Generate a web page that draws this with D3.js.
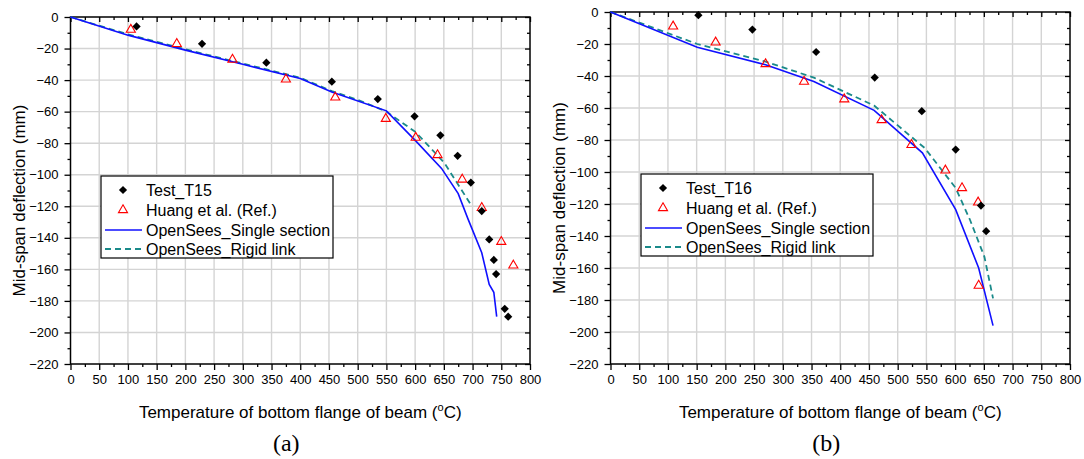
<!DOCTYPE html>
<html>
<head>
<meta charset="utf-8">
<script src="https://cdn.jsdelivr.net/npm/d3@7"></script>
<style>
  html, body { margin: 0; padding: 0; background: #fff; }
  svg { display: block; }
  text { font-family: "Liberation Sans", Arial, sans-serif; fill: #000; }
</style>
</head>
<body>
<svg id="chart" width="1084" height="459"></svg>
<script>
// ---------- data ----------
const xTickValues = [0,50,100,150,200,250,300,350,400,450,500,550,600,650,700,750,800];
const yTickValues = [0,-20,-40,-60,-80,-100,-120,-140,-160,-180,-200,-220];
const seriesNames = ["Test_T15", "Huang et al. (Ref.)", "OpenSees_Single section", "OpenSees_Rigid link"];
const seriesNamesB = ["Test_T16", "Huang et al. (Ref.)", "OpenSees_Single section", "OpenSees_Rigid link"];
const xTitle = "Temperature of bottom flange of beam (";
const yTitle = "Mid-span deflection (mm)";

// Panel (a) T15
const testT15 = [[115,-6],[229,-17],[341,-29],[455,-41],[535,-52],[599,-63],[644,-75],[674,-88],[697,-105],
  [716,-123],[729,-141],[737,-154],[741,-163],[756,-185],[762,-190]];
const huangA = [[105,-8],[185,-17],[282,-27],[375,-39.5],[461,-51],[549,-64.5],[601,-76.5],[639,-87.5],
  [682,-103],[716,-121],[750,-142.5],[771,-157.5]];
const singleA = [[0,0],[100,-11.5],[200,-21],[300,-30],[400,-39],[455,-47.5],[550,-59.5],[601,-78.5],
  [646,-96],[675,-112],[692,-128],[716,-149.5],[729,-169.5],[737,-174.5],[742,-190]];
const rigidA = [[0,0],[100,-11],[200,-20.5],[300,-29.5],[400,-38.5],[455,-47],[500,-52.5],[550,-60],
  [601,-73],[651,-92.5],[697,-119]];

// Panel (b) T16
const testT16 = [[153,-2],[247,-11],[358,-25],[460,-41],[542,-62],[601,-86],[645,-121],[654,-137]];
const huangB = [[109,-9],[183,-19],[270,-32.5],[337,-43.5],[407,-54.5],[472,-67.5],[524,-83],[583,-99],
  [612,-110],[640,-119],[641,-171]];
const singleB = [[0,0],[151,-22],[270,-33],[354,-43.5],[459,-61.5],[543,-88],[601,-123.5],[641,-160],[666,-196]];
const rigidB = [[0,0],[151,-20],[270,-31],[354,-41],[459,-58.5],[547,-85],[601,-110],[626,-130],[651,-153],[666,-179]];

// ---------- drawing ----------
const svg = d3.select("#chart");
const C_BLUE = "#1010ff", C_TEAL = "#1a8a8a", C_RED = "#ff0000", C_GRID = "#d4d4d4";

function panel(cfg) {
  const x = d3.scaleLinear().domain([0, 800]).range([cfg.left, cfg.right]);
  const y = d3.scaleLinear().domain([-220, 0]).range([cfg.bottom, cfg.top]);
  const g = svg.append("g");

  // grid
  g.append("g").selectAll("line").data(xTickValues.filter(v => v > 0 && v < 800)).join("line")
    .attr("x1", d => x(d)).attr("x2", d => x(d)).attr("y1", cfg.top).attr("y2", cfg.bottom)
    .attr("stroke", C_GRID).attr("stroke-width", 1.4);
  g.append("g").selectAll("line").data(yTickValues.filter(v => v > -220 && v < 0)).join("line")
    .attr("y1", d => y(d)).attr("y2", d => y(d)).attr("x1", cfg.left).attr("x2", cfg.right)
    .attr("stroke", C_GRID).attr("stroke-width", 1.4);

  const minorX = d3.range(25, 800, 50);
  const minorY = d3.range(-210, 0, 20);

  function styleAxis(sel) {
    sel.select(".domain").remove();
    sel.selectAll(".tick line").attr("stroke", "#000").attr("stroke-width", 1.3);
    sel.selectAll(".tick text").style("font-size", "13px").style("font-family", "'Liberation Sans', Arial, sans-serif").attr("fill", "#111");
  }
  // bottom
  g.append("g").attr("transform", `translate(0,${cfg.bottom})`)
    .call(d3.axisBottom(x).tickValues(xTickValues).tickSize(6).tickPadding(5).tickFormat(d3.format("d")))
    .call(styleAxis);
  g.append("g").attr("transform", `translate(0,${cfg.bottom})`)
    .call(d3.axisBottom(x).tickValues(minorX).tickSize(3).tickFormat(""))
    .call(styleAxis);
  // left
  g.append("g").attr("transform", `translate(${cfg.left},0)`)
    .call(d3.axisLeft(y).tickValues(yTickValues).tickSize(6).tickPadding(6).tickFormat(d3.format("d")))
    .call(styleAxis);
  g.append("g").attr("transform", `translate(${cfg.left},0)`)
    .call(d3.axisLeft(y).tickValues(minorY).tickSize(3).tickFormat(""))
    .call(styleAxis);
  // top (inward)
  g.append("g").attr("transform", `translate(0,${cfg.top})`)
    .call(d3.axisBottom(x).tickValues(xTickValues).tickSize(5).tickFormat("")).call(styleAxis);
  g.append("g").attr("transform", `translate(0,${cfg.top})`)
    .call(d3.axisBottom(x).tickValues(minorX).tickSize(3).tickFormat("")).call(styleAxis);
  // right (inward)
  g.append("g").attr("transform", `translate(${cfg.right},0)`)
    .call(d3.axisLeft(y).tickValues(yTickValues).tickSize(5).tickFormat("")).call(styleAxis);
  g.append("g").attr("transform", `translate(${cfg.right},0)`)
    .call(d3.axisLeft(y).tickValues(minorY).tickSize(3).tickFormat("")).call(styleAxis);

  // frame
  g.append("rect").attr("x", cfg.left).attr("y", cfg.top)
    .attr("width", cfg.right - cfg.left).attr("height", cfg.bottom - cfg.top)
    .attr("fill", "none").attr("stroke", "#000").attr("stroke-width", 1.5);

  // lines
  const line = d3.line().x(d => x(d[0])).y(d => y(d[1]));
  g.append("path").datum(cfg.rigid).attr("d", line).attr("fill", "none")
    .attr("stroke", C_TEAL).attr("stroke-width", 1.8).attr("stroke-dasharray", "6,4");
  g.append("path").datum(cfg.single).attr("d", line).attr("fill", "none")
    .attr("stroke", C_BLUE).attr("stroke-width", 1.6);

  // markers
  const tri = d3.symbol().type(d3.symbolTriangle).size(36);
  const dia = d3.symbol().type(d3.symbolSquare).size(34);
  g.append("g").selectAll("path").data(cfg.huang).join("path")
    .attr("d", tri).attr("transform", d => `translate(${x(d[0])},${y(d[1])})`)
    .attr("fill", "none").attr("stroke", C_RED).attr("stroke-width", 1.1);
  g.append("g").selectAll("path").data(cfg.test).join("path")
    .attr("d", dia).attr("transform", d => `translate(${x(d[0])},${y(d[1])}) rotate(45)`)
    .attr("fill", "#000");

  // axis titles
  const xt = g.append("text").attr("x", (cfg.left + cfg.right) / 2).attr("y", 418)
    .attr("text-anchor", "middle").style("font-size", "17px");
  xt.append("tspan").text(xTitle);
  xt.append("tspan").attr("dy", -7).style("font-size", "11px").text("o");
  xt.append("tspan").attr("dy", 7).text("C)");

  g.append("text").attr("transform", `translate(${cfg.left - 46},${(cfg.top + cfg.bottom) / 2 + 10}) rotate(-90)`)
    .attr("text-anchor", "middle").style("font-size", "17px").text(yTitle);

  // caption
  g.append("text").attr("x", (cfg.left + cfg.right) / 2 - 14).attr("y", 451).attr("text-anchor", "middle")
    .style("font-family", "'Liberation Serif', 'Times New Roman', serif").style("font-size", "24px").text(cfg.caption);

  // legend
  const L = g.append("g").attr("transform", `translate(${cfg.legX},${cfg.legY})`);
  L.append("rect").attr("width", 232).attr("height", 82).attr("fill", "#fff")
    .attr("stroke", "#000").attr("stroke-width", 1.2);
  const rows = [14, 34, 54, 73];
  L.append("path").attr("d", dia).attr("transform", `translate(22,${rows[0]}) rotate(45)`).attr("fill", "#000");
  L.append("path").attr("d", tri).attr("transform", `translate(22,${rows[1]})`)
    .attr("fill", "none").attr("stroke", C_RED).attr("stroke-width", 1.1);
  L.append("line").attr("x1", 4).attr("x2", 41).attr("y1", rows[2]).attr("y2", rows[2])
    .attr("stroke", C_BLUE).attr("stroke-width", 1.6);
  L.append("line").attr("x1", 4).attr("x2", 41).attr("y1", rows[3]).attr("y2", rows[3])
    .attr("stroke", C_TEAL).attr("stroke-width", 1.8).attr("stroke-dasharray", "6,4");
  L.selectAll("text.lab").data(cfg.names).join("text").attr("class", "lab")
    .attr("x", 45).attr("y", (d, i) => rows[i] + 6).style("font-size", "16px").text(d => d);
}

panel({left: 70.5, right: 530, top: 17, bottom: 364, test: testT15, huang: huangA, single: singleA, rigid: rigidA,
  names: seriesNames, legX: 101, legY: 176, caption: "(a)"});
panel({left: 610.5, right: 1070, top: 12, bottom: 364, test: testT16, huang: huangB, single: singleB, rigid: rigidB,
  names: seriesNamesB, legX: 641, legY: 174, caption: "(b)"});
</script>
</body>
</html>
